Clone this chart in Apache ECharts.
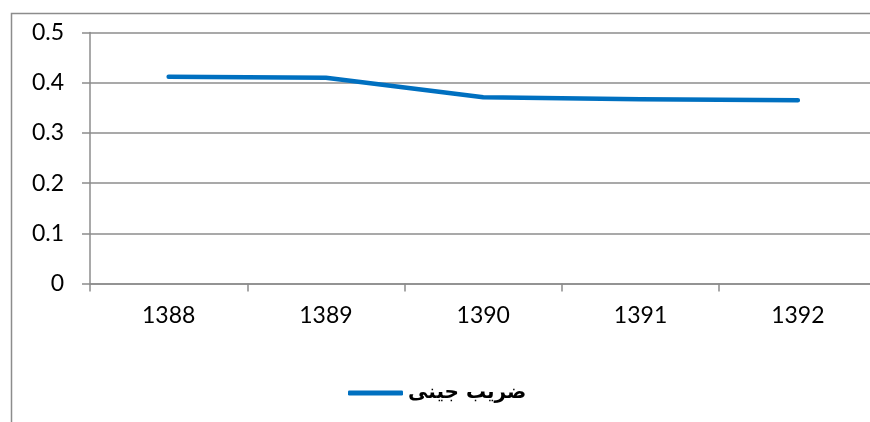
<!DOCTYPE html>
<html>
<head>
<meta charset="utf-8">
<title>ضریب جینی</title>
<script src="https://cdn.jsdelivr.net/npm/echarts@6/dist/echarts.min.js"></script>
<style>
  html, body { margin: 0; padding: 0; background: #fff; }
  #main { width: 870px; height: 422px; }
</style>
</head>
<body>
<div id="main"></div>
<script>
// سال‌ها و مقدار ضریب جینی (خوانده شده از تصویر)
var years = ['1388', '1389', '1390', '1391', '1392']
var gini = [0.412, 0.410, 0.371, 0.367, 0.365]
var seriesName = 'ضریب جینی'

var yMin = 0
var yMax = 0.5
var yStep = 0.1

var axisColor = '#8c8c8c'
var lineColor = '#0070C0'

var chart = echarts.init(document.getElementById('main'))

var option = {
    backgroundColor: '#fff',
    animation: false,
    // قاب بیرونی نمودار که از تصویر بیرون می‌زند
    graphic: [{
        type: 'rect',
        left: 9, top: 11,
        shape: { width: 900, height: 500 },
        style: { fill: 'none', stroke: '#8c8c8c', lineWidth: 1.5 },
        silent: true
    }],
    grid: {
        left: 90,
        top: 32.5,
        right: -6.5,
        height: 251,
        outerBoundsMode: 'none',
        containLabel: false
    },
    legend: {
        data: [seriesName],
        left: 343,
        top: 378,
        icon: 'roundRect',
        itemWidth: 55,
        itemHeight: 5,
        itemGap: 5,
        textStyle: {
            fontFamily: 'DejaVu Sans',
            fontWeight: 'bold',
            fontSize: 20,
            color: '#000'
        }
    },
    xAxis: {
        type: 'category',
        data: years,
        boundaryGap: true,
        axisLine: { lineStyle: { color: axisColor, width: 1.5 } },
        axisTick: { show: true, length: 8, lineStyle: { color: axisColor, width: 1.5 } },
        axisLabel: {
            margin: 21,
            fontFamily: 'Lato',
            fontSize: 23,
            color: '#000'
        }
    },
    yAxis: {
        type: 'value',
        min: yMin,
        max: yMax,
        interval: yStep,
        axisLine: { show: true, lineStyle: { color: axisColor, width: 1.5 } },
        axisTick: { show: true, length: 8, lineStyle: { color: axisColor, width: 1.5 } },
        splitLine: { lineStyle: { color: axisColor, width: 1.5 } },
        axisLabel: {
            margin: 26,
            fontFamily: 'Lato',
            fontSize: 23,
            color: '#000'
        }
    },
    series: [{
        name: seriesName,
        type: 'line',
        data: gini,
        symbol: 'none',
        smooth: false,
        itemStyle: { color: lineColor },
        lineStyle: { color: lineColor, width: 4.5, cap: 'round', join: 'round' }
    }]
}

chart.setOption(option)
</script>
</body>
</html>
